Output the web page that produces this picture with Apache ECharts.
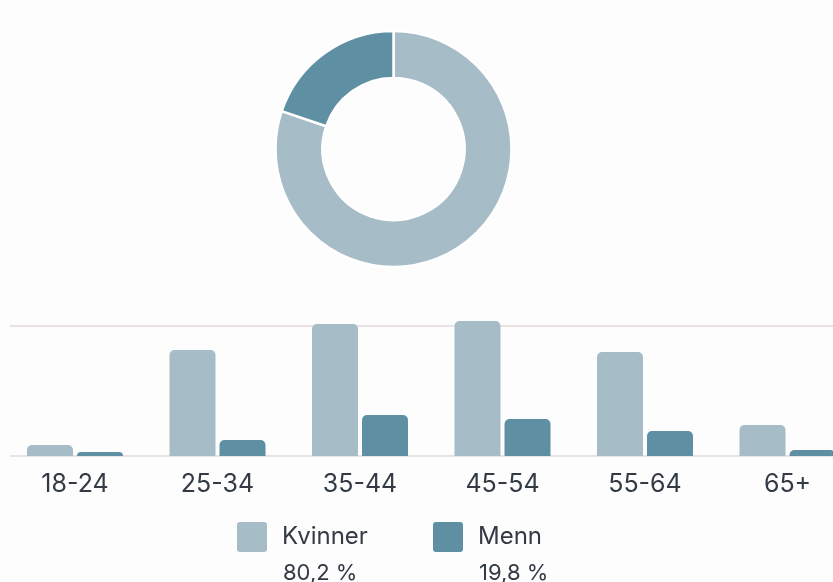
<!DOCTYPE html>
<html><head><meta charset="utf-8">
<script src="https://cdn.jsdelivr.net/npm/echarts@6/dist/echarts.min.js"></script>
<style>html,body{margin:0;padding:0;background:#fdfdfd;}#c{width:833px;height:582px;}</style>
</head><body><div id="c"></div>
<script>
const categories = ['18-24', '25-34', '35-44', '45-54', '55-64', '65+'];
const women = [11, 106, 132, 135, 104, 31];
const men = [4, 16, 41, 37, 25, 6];
const genderNames = ['Kvinner', 'Menn'];
const genderShare = [80.2, 19.8];
const colors = ['#a6bcc6', '#5f8fa3'];
const lineColor = '#e3d9d6';
const textColor = '#333a44';
const FONT = 'Inter, "Noto Sans", sans-serif';

function pct(v) { return v.toFixed(1).replace('.', ',') + ' %'; }

const legendLefts = [237, 433];

function legendFor(i) {
  return {
    left: legendLefts[i], top: 522, padding: 0, orient: 'horizontal',
    data: [genderNames[i]], selectedMode: false,
    icon: 'path://M3,0 L27,0 Q30,0 30,3 L30,27 Q30,30 27,30 L3,30 Q0,30 0,27 L0,3 Q0,0 3,0 Z',
    itemWidth: 30, itemHeight: 30,
    textStyle: {
      fontFamily: FONT, color: textColor, fontSize: 24, padding: [0, 0, 0, 10]
    }
  };
}

const chart = echarts.init(document.getElementById('c'), null, { renderer: 'canvas' });
chart.setOption({
  backgroundColor: '#fdfdfd',
  animation: false,
  color: colors,
  legend: [legendFor(0), legendFor(1)],
  grid: [
    { left: 3.75, width: 855, top: 321, bottom: 126, containLabel: false, outerBoundsMode: 'none' },
    { left: 10, width: 850, top: 326, bottom: 126, containLabel: false, outerBoundsMode: 'none' }
  ],
  xAxis: [
    {
      type: 'category', gridIndex: 0, data: categories,
      axisLine: { show: false }, axisTick: { show: false },
      axisLabel: { color: textColor, fontSize: 25, fontFamily: FONT, margin: 16 }
    },
    { type: 'value', gridIndex: 1, show: false, min: 0, max: 1 }
  ],
  yAxis: [
    { type: 'value', gridIndex: 0, min: 0, max: 135, show: false },
    {
      type: 'value', gridIndex: 1, min: 0, max: 1, interval: 1,
      axisLine: { show: false }, axisTick: { show: false }, axisLabel: { show: false },
      splitLine: { show: true, lineStyle: { color: lineColor, width: 1.5 } }
    }
  ],
  graphic: genderNames.map((n, i) => ({
    type: 'text', left: legendLefts[i] + 46, top: 562, silent: true,
    style: { text: pct(genderShare[i]), fill: textColor, font: '22px ' + FONT }
  })),
  series: [
    {
      name: genderNames[0], type: 'bar', xAxisIndex: 0, yAxisIndex: 0,
      data: women, barWidth: 46, barGap: '8.7%', z: 3,
      itemStyle: { color: colors[0], borderRadius: [5, 5, 0, 0] }
    },
    {
      name: genderNames[1], type: 'bar', xAxisIndex: 0, yAxisIndex: 0,
      data: men, barWidth: 46, barGap: '8.7%', z: 3,
      itemStyle: { color: colors[1], borderRadius: [5, 5, 0, 0] }
    },
    {
      type: 'pie', name: 'Kjønn', center: [393.5, 149], radius: [71, 118],
      startAngle: 90, clockwise: true, label: { show: false }, labelLine: { show: false },
      emphasis: { disabled: true },
      itemStyle: { borderColor: '#ffffff', borderWidth: 2.5 },
      data: genderNames.map((n, i) => ({ name: n, value: genderShare[i], itemStyle: { color: colors[i] } }))
    }
  ]
});
</script>
</body></html>
